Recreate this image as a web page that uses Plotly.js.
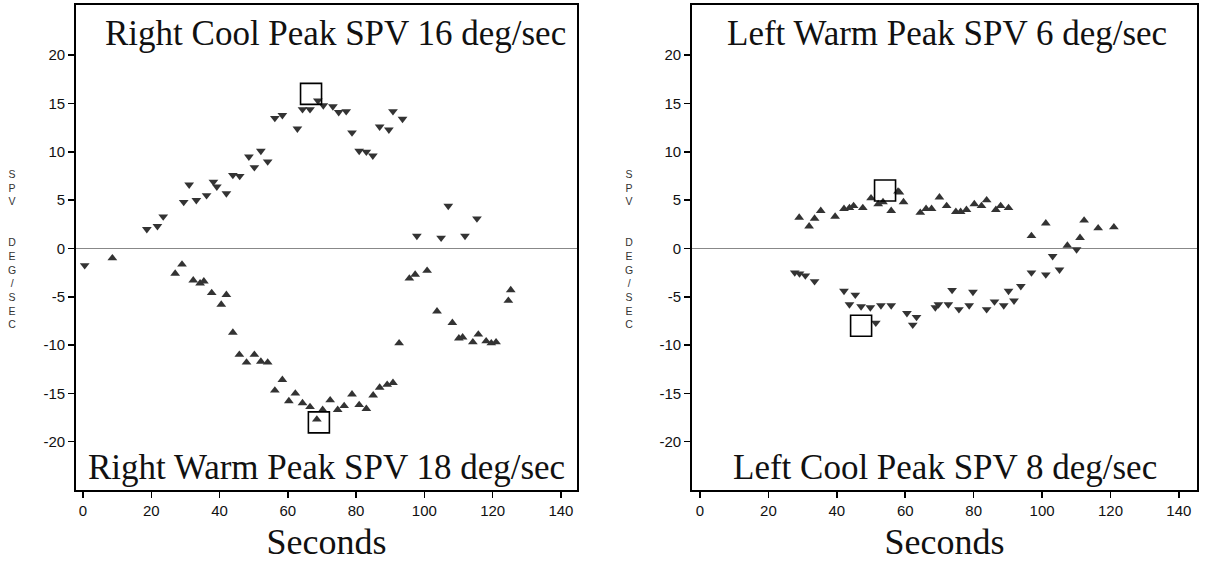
<!DOCTYPE html>
<html>
<head>
<meta charset="utf-8">
<script src="https://cdn.plot.ly/plotly-3.0.1.min.js"></script>
<style>html,body{margin:0;padding:0;background:#fff;}#chart{width:1209px;height:562px;}</style>
</head>
<body>
<div id="chart"></div>
<script>
// Right ear (left panel)
const rightCoolX = [0.5, 18.7, 21.8, 23.5, 29.5, 31.1, 33.2, 36.2, 38.2, 39.2, 42.0, 43.9, 45.9, 48.6, 50.2, 52.1, 54.1, 56.2, 58.4, 62.8, 64.3, 66.5, 68.8, 70.4, 73.2, 74.9, 77.1, 78.8, 80.9, 83.0, 84.9, 86.9, 89.6, 90.8, 93.6, 97.8, 104.9, 107.0, 111.9, 115.4];
const rightCoolY = [-1.75, 2.0, 2.3, 3.3, 4.8, 6.6, 5.0, 5.5, 6.9, 6.4, 5.7, 7.6, 7.5, 9.5, 8.4, 10.1, 9.0, 13.5, 13.8, 12.4, 14.4, 14.4, 15.3, 14.8, 14.7, 14.1, 14.2, 12.0, 10.1, 10.0, 9.6, 12.6, 12.3, 14.2, 13.4, 1.3, 1.1, 4.4, 1.3, 3.1];
const rightWarmX = [8.6, 27.0, 29.0, 32.3, 34.3, 35.4, 37.7, 40.5, 42.0, 43.9, 45.8, 47.9, 50.2, 52.1, 54.1, 56.2, 58.4, 60.3, 62.2, 64.3, 66.5, 68.5, 70.2, 72.4, 74.6, 76.5, 78.8, 80.9, 83.0, 85.0, 86.9, 89.1, 90.8, 92.6, 95.6, 97.3, 100.8, 103.7, 108.2, 110.1, 111.2, 114.2, 115.8, 118.1, 119.6, 121.0, 124.6, 125.3];
const rightWarmY = [-1.0, -2.6, -1.65, -3.3, -3.6, -3.4, -4.6, -5.8, -4.8, -8.7, -11.0, -11.8, -11.0, -11.7, -11.8, -14.7, -13.6, -15.8, -15.0, -16.0, -16.4, -17.7, -16.7, -15.7, -16.7, -16.3, -15.1, -16.2, -16.6, -15.2, -14.4, -14.1, -13.9, -9.8, -3.1, -2.7, -2.3, -6.5, -7.7, -9.3, -9.2, -9.7, -8.9, -9.6, -9.8, -9.7, -5.4, -4.3];
const rightPeakX = [66.8, 69.1];
const rightPeakY = [16, -18];

// Left ear (right panel)
const leftWarmX = [29.0, 31.9, 33.5, 35.3, 39.5, 42.1, 43.7, 44.9, 47.6, 50.0, 52.1, 53.5, 55.9, 57.9, 58.3, 59.5, 64.4, 66.1, 67.7, 70.0, 72.1, 74.8, 76.2, 77.9, 80.2, 82.3, 83.8, 86.5, 87.9, 90.2, 96.9, 101.1, 107.4, 111.1, 112.3, 116.4, 121.0];
const leftWarmY = [3.2, 2.3, 3.1, 3.9, 3.3, 4.1, 4.2, 4.4, 4.2, 5.2, 4.6, 4.8, 3.9, 5.9, 5.8, 4.8, 3.7, 4.1, 4.1, 5.3, 4.4, 3.8, 3.8, 4.0, 4.6, 4.4, 5.0, 4.0, 4.4, 4.2, 1.3, 2.6, 0.3, 1.1, 2.9, 2.1, 2.2];
const leftCoolX = [27.7, 29.1, 30.8, 33.5, 42.1, 45.4, 43.7, 47.1, 49.8, 52.9, 55.9, 51.4, 60.5, 63.3, 62.2, 68.8, 69.7, 72.6, 73.7, 75.7, 78.7, 79.8, 83.8, 86.1, 88.8, 90.2, 91.8, 93.8, 96.9, 101.1, 105.1, 103.1, 110.1];
const leftCoolY = [-2.5, -2.6, -2.8, -3.4, -4.4, -4.8, -5.8, -6.0, -6.1, -5.9, -5.9, -7.7, -6.7, -7.1, -7.9, -6.1, -5.8, -5.8, -4.3, -6.3, -5.9, -4.5, -6.3, -5.5, -5.9, -4.4, -5.4, -3.9, -2.5, -2.7, -2.2, -0.8, -0.1];
const leftPeakX = [54.1, 47.1];
const leftPeakY = [6, -8];

const panelTitles = [
  ["Right Cool Peak SPV 16 deg/sec", "Right Warm Peak SPV 18 deg/sec"],
  ["Left Warm Peak SPV 6 deg/sec", "Left Cool Peak SPV 8 deg/sec"]
];
const xTitle = "Seconds";
const yTitle = "S<br>P<br>V<br><br><br>D<br>E<br>G<br>/<br>S<br>E<br>C";
const xTicks = [0, 20, 40, 60, 80, 100, 120, 140];
const yTicks = [-20, -15, -10, -5, 0, 5, 10, 15, 20];

const mk = (sym) => ({symbol: sym, size: 8.5, color: '#333333', line: {width: 0}});
const sq = {symbol: 'square-open', size: 21, color: '#000', line: {width: 1.6, color: '#000'}};

const traces = [
  {x: rightCoolX, y: rightCoolY, xaxis: 'x', yaxis: 'y', mode: 'markers', type: 'scatter', marker: mk('triangle-down')},
  {x: rightWarmX, y: rightWarmY, xaxis: 'x', yaxis: 'y', mode: 'markers', type: 'scatter', marker: mk('triangle-up')},
  {x: rightPeakX, y: rightPeakY, xaxis: 'x', yaxis: 'y', mode: 'markers', type: 'scatter', marker: sq},
  {x: leftWarmX, y: leftWarmY, xaxis: 'x2', yaxis: 'y2', mode: 'markers', type: 'scatter', marker: mk('triangle-up')},
  {x: leftCoolX, y: leftCoolY, xaxis: 'x2', yaxis: 'y2', mode: 'markers', type: 'scatter', marker: mk('triangle-down')},
  {x: leftPeakX, y: leftPeakY, xaxis: 'x2', yaxis: 'y2', mode: 'markers', type: 'scatter', marker: sq}
];

const tickFont = {family: 'Liberation Sans, Arial, sans-serif', size: 15, color: '#111'};
const titleFont = {family: 'Liberation Serif, Times New Roman, serif', size: 35, color: '#111'};

function xa(domain, range, anchor) {
  return {domain: domain, range: range, anchor: anchor, tickvals: xTicks, ticktext: xTicks.map(String), ticks: 'outside', ticklen: 6, tickwidth: 1.5, tickcolor: '#000',
    showline: true, linecolor: '#000', linewidth: 1.8, mirror: true, showgrid: false, zeroline: false, tickfont: tickFont,
    title: {text: xTitle, font: {family: 'Liberation Serif, Times New Roman, serif', size: 36, color: '#111'}, standoff: 14}};
}
function ya(anchor) {
  return {domain: [0, 1], range: [-25, 25.2], anchor: anchor, tickvals: yTicks, ticktext: yTicks.map(String), ticks: 'outside', ticklen: 6, tickwidth: 1.5, tickcolor: '#000',
    showline: true, linecolor: '#000', linewidth: 1.8, mirror: true, showgrid: false, zeroline: true, zerolinecolor: '#888', zerolinewidth: 1.5, tickfont: tickFont};
}

const ann = [];
const refs = [['x', 'y'], ['x2', 'y2']];
const tPos = [[0.517, 0.501], [0.505, 0.501]];
for (let i = 0; i < 2; i++) {
  ann.push({xref: refs[i][0] + ' domain', yref: refs[i][1] + ' domain', x: tPos[i][0], y: 0.942, text: panelTitles[i][0], showarrow: false, font: titleFont, xanchor: 'center', yanchor: 'middle'});
  ann.push({xref: refs[i][0] + ' domain', yref: refs[i][1] + ' domain', x: tPos[i][1], y: 0.047, text: panelTitles[i][1], showarrow: false, font: titleFont, xanchor: 'center', yanchor: 'middle'});
}
const yLabFont = {family: 'Liberation Sans, Arial, sans-serif', size: 10.5, color: '#333'};
ann.push({xref: 'paper', yref: 'paper', x: (12 - 76) / 1121, y: 0.497, text: yTitle, showarrow: false, xanchor: 'center', yanchor: 'middle', font: yLabFont});
ann.push({xref: 'paper', yref: 'paper', x: (629 - 76) / 1121, y: 0.497, text: yTitle, showarrow: false, xanchor: 'center', yanchor: 'middle', font: yLabFont});

const layout = {
  width: 1209, height: 562,
  margin: {l: 76, r: 12, t: 5, b: 72},
  paper_bgcolor: '#fff', plot_bgcolor: '#fff',
  showlegend: false,
  xaxis: xa([0, 0.4469], [-2.05, 144.7], 'y'),
  yaxis: ya('x'),
  xaxis2: xa([0.5495, 1], [-2.34, 145.3], 'y2'),
  yaxis2: ya('x2'),
  annotations: ann
};

Plotly.newPlot('chart', traces, layout, {staticPlot: true, displayModeBar: false});
</script>
</body>
</html>
